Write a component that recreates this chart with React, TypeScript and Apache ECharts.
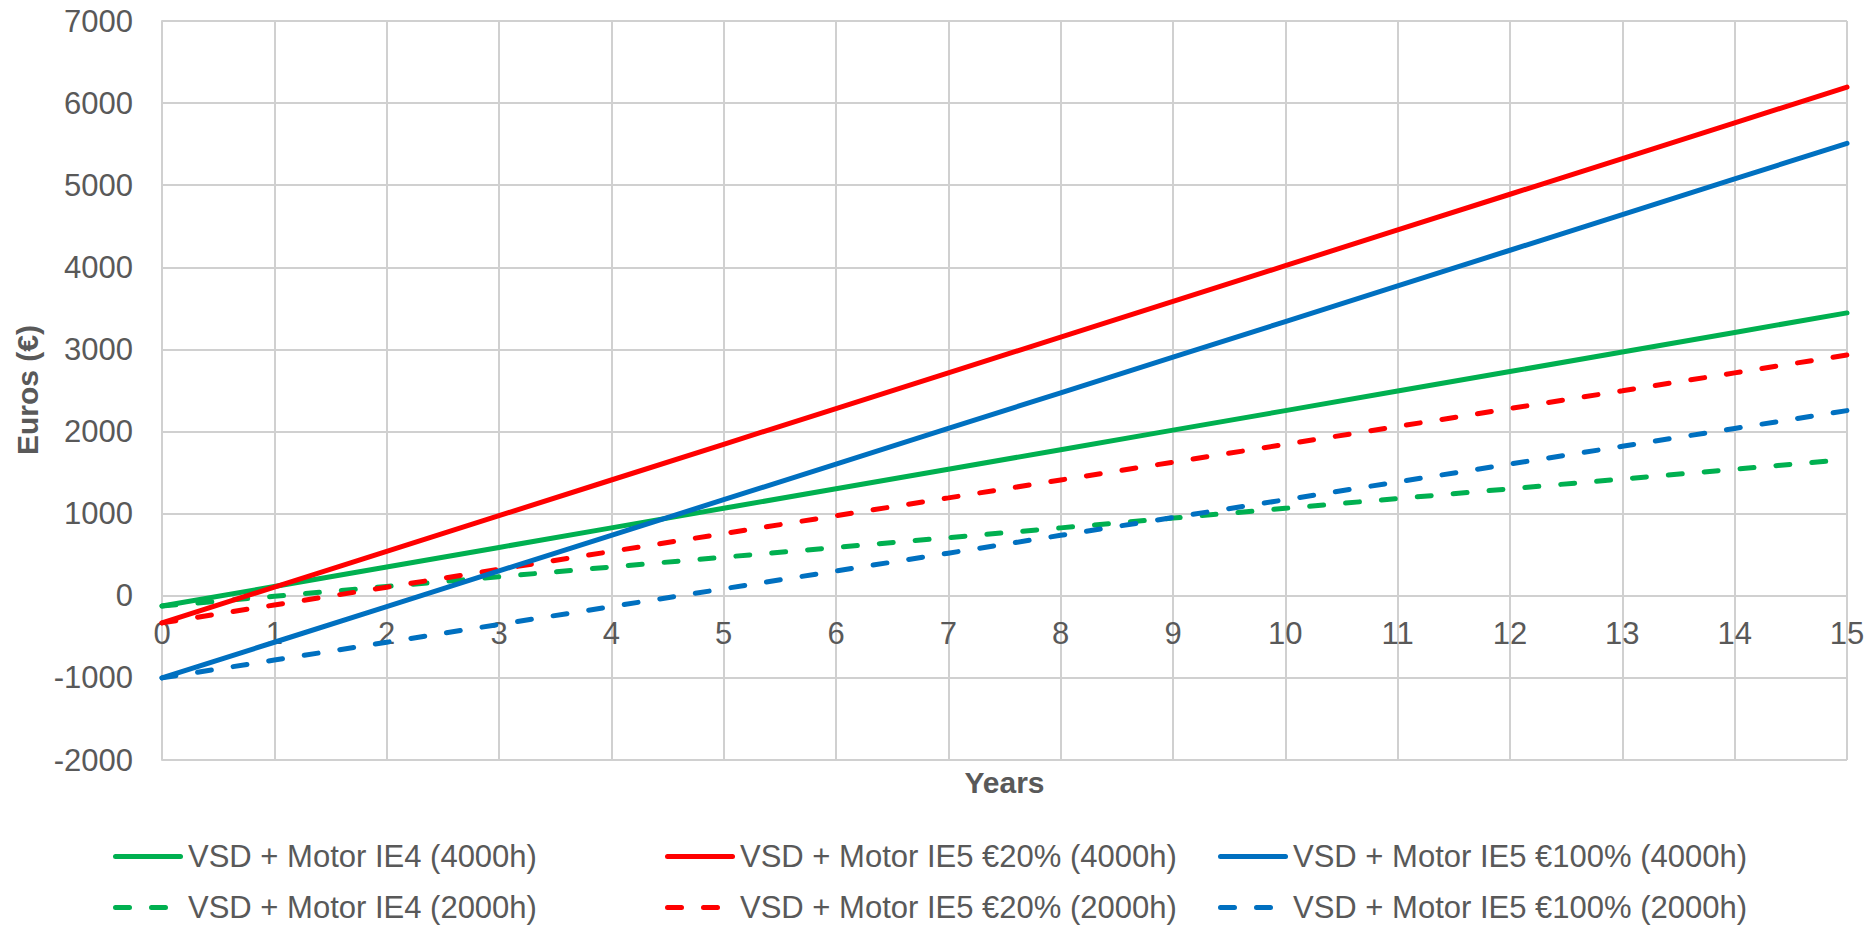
import React, { useEffect, useRef } from "react";
import * as echarts from "echarts";

// Years since investment
const years = [0, 1, 2, 3, 4, 5, 6, 7, 8, 9, 10, 11, 12, 13, 14, 15];

// Cumulative savings (€), 4000 operating hours per year
const ie4_4000h = [-125, 113, 351, 589, 827, 1065, 1303, 1541, 1779, 2017, 2255, 2493, 2731, 2969, 3207, 3445];
const ie5_20_4000h = [-330, 105, 540, 975, 1410, 1845, 2280, 2715, 3150, 3585, 4020, 4455, 4890, 5325, 5760, 6195];
const ie5_100_4000h = [-1000, -566, -132, 302, 736, 1170, 1604, 2038, 2472, 2906, 3340, 3774, 4208, 4642, 5076, 5510];

// Cumulative savings (€), 2000 operating hours per year
const ie4_2000h = [-125, -6, 113, 232, 351, 470, 589, 708, 827, 946, 1065, 1184, 1303, 1422, 1541, 1660];
const ie5_20_2000h = [-330, -112, 105, 322, 540, 757, 975, 1192, 1410, 1627, 1845, 2062, 2280, 2497, 2715, 2932];
const ie5_100_2000h = [-1000, -783, -566, -349, -132, 85, 302, 519, 736, 953, 1170, 1387, 1604, 1821, 2038, 2255];

// Y axis range
const Y_MIN = -2000;
const Y_MAX = 7000;

const names = [
  "VSD + Motor IE4 (4000h)",
  "VSD + Motor IE5 €20% (4000h)",
  "VSD + Motor IE5 €100% (4000h)",
  "VSD + Motor IE4 (2000h)",
  "VSD + Motor IE5 €20% (2000h)",
  "VSD + Motor IE5 €100% (2000h)",
];

const GREEN = "#00B050";
const RED = "#FF0000";
const BLUE = "#0070C0";
const TEXT = "#595959";
const GRID = "#d0d0d0";
const FONT = "'Liberation Sans', Arial, sans-serif";

const GRID_TOP = 21;
const GRID_BOTTOM = 168;
const CHART_H = 928;

// Legend keys: a solid bar and a two-dash bar, both 70 units wide
const SOLID_ICON = "path://M2.5,0H67.5A2.5,2.5,0,0,1,67.5,5H2.5A2.5,2.5,0,0,1,2.5,0Z";
const DASH_ICON =
  "path://M2.5,0H16.5A2.5,2.5,0,0,1,16.5,5H2.5A2.5,2.5,0,0,1,2.5,0Z" +
  "M38.5,0H52.5A2.5,2.5,0,0,1,52.5,5H38.5A2.5,2.5,0,0,1,38.5,0Z" +
  "M69.9,2.45H70V2.55H69.9Z";

const pair = (ys: number[]) => years.map((x, i) => [x, ys[i]]);

export default function App() {
  const ref = useRef<HTMLDivElement>(null);

  useEffect(() => {
    if (!ref.current) return;
    const chart = echarts.init(ref.current, null, { renderer: "svg" });

    // The horizontal axis sits on the zero line; shift it up from the grid bottom.
    const plotH = CHART_H - GRID_TOP - GRID_BOTTOM;
    const zeroShift = ((0 - Y_MIN) / (Y_MAX - Y_MIN)) * plotH;

    const line = (name: string, ys: number[], color: string, dashed: boolean) => ({
      name,
      type: "line",
      data: pair(ys),
      showSymbol: false,
      symbol: "none",
      color,
      lineStyle: {
        color,
        width: 5,
        cap: "round",
        type: dashed ? [14, 22] : "solid",
      },
      z: dashed ? 3 : 4,
    });

    const legendBase = {
      orient: "vertical",
      top: 841,
      height: 120,
      padding: 0,
      itemWidth: 70,
      itemHeight: 5,
      itemGap: 20,
      selectedMode: false,
      itemStyle: { borderWidth: 0 },
      textStyle: { color: TEXT, fontSize: 31, fontFamily: FONT, lineHeight: 30 },
    };

    const legendItem = (i: number) => ({
      name: names[i],
      icon: i < 3 ? SOLID_ICON : DASH_ICON,
    });

    chart.setOption({
      animation: false,
      textStyle: { fontFamily: FONT },
      grid: { left: 162, top: GRID_TOP, right: 22, bottom: GRID_BOTTOM, containLabel: false },
      xAxis: {
        type: "value",
        min: 0,
        max: 15,
        interval: 1,
        position: "bottom",
        offset: -zeroShift,
        axisLine: { show: true, onZero: false, lineStyle: { color: GRID, width: 2 } },
        axisTick: { show: false },
        axisLabel: {
          color: TEXT,
          fontSize: 31,
          fontFamily: FONT,
          margin: 22,
          lineHeight: 31,
        },
        splitLine: { show: true, lineStyle: { color: GRID, width: 2 } },
      },
      yAxis: {
        type: "value",
        min: Y_MIN,
        max: Y_MAX,
        interval: 1000,
        axisLine: { show: true, onZero: false, lineStyle: { color: GRID, width: 2 } },
        axisTick: { show: false },
        axisLabel: {
          color: TEXT,
          fontSize: 31,
          fontFamily: FONT,
          margin: 29,
          formatter: (v: number) => String(v),
        },
        splitLine: { show: true, lineStyle: { color: GRID, width: 2 } },
      },
      legend: [
        { ...legendBase, left: 113, data: [legendItem(0), legendItem(3)] },
        { ...legendBase, left: 665, data: [legendItem(1), legendItem(4)] },
        { ...legendBase, left: 1218, data: [legendItem(2), legendItem(5)] },
      ],
      graphic: [
        {
          type: "text",
          x: 27.5,
          y: 390,
          rotation: Math.PI / 2,
          style: {
            text: "Euros (€)",
            fill: TEXT,
            font: `bold 30px ${FONT}`,
            textAlign: "center",
            textVerticalAlign: "middle",
          },
        },
        {
          type: "text",
          x: 1004.5,
          y: 782,
          style: {
            text: "Years",
            fill: TEXT,
            font: `bold 30px ${FONT}`,
            textAlign: "center",
            textVerticalAlign: "middle",
          },
        },
      ],
      series: [
        line(names[3], ie4_2000h, GREEN, true),
        line(names[4], ie5_20_2000h, RED, true),
        line(names[5], ie5_100_2000h, BLUE, true),
        line(names[0], ie4_4000h, GREEN, false),
        line(names[1], ie5_20_4000h, RED, false),
        line(names[2], ie5_100_4000h, BLUE, false),
      ],
    });

    return () => chart.dispose();
  }, []);

  return (
    <div
      ref={ref}
      style={{ position: "fixed", left: 0, top: 0, width: 1869, height: CHART_H, background: "#fff" }}
    />
  );
}
